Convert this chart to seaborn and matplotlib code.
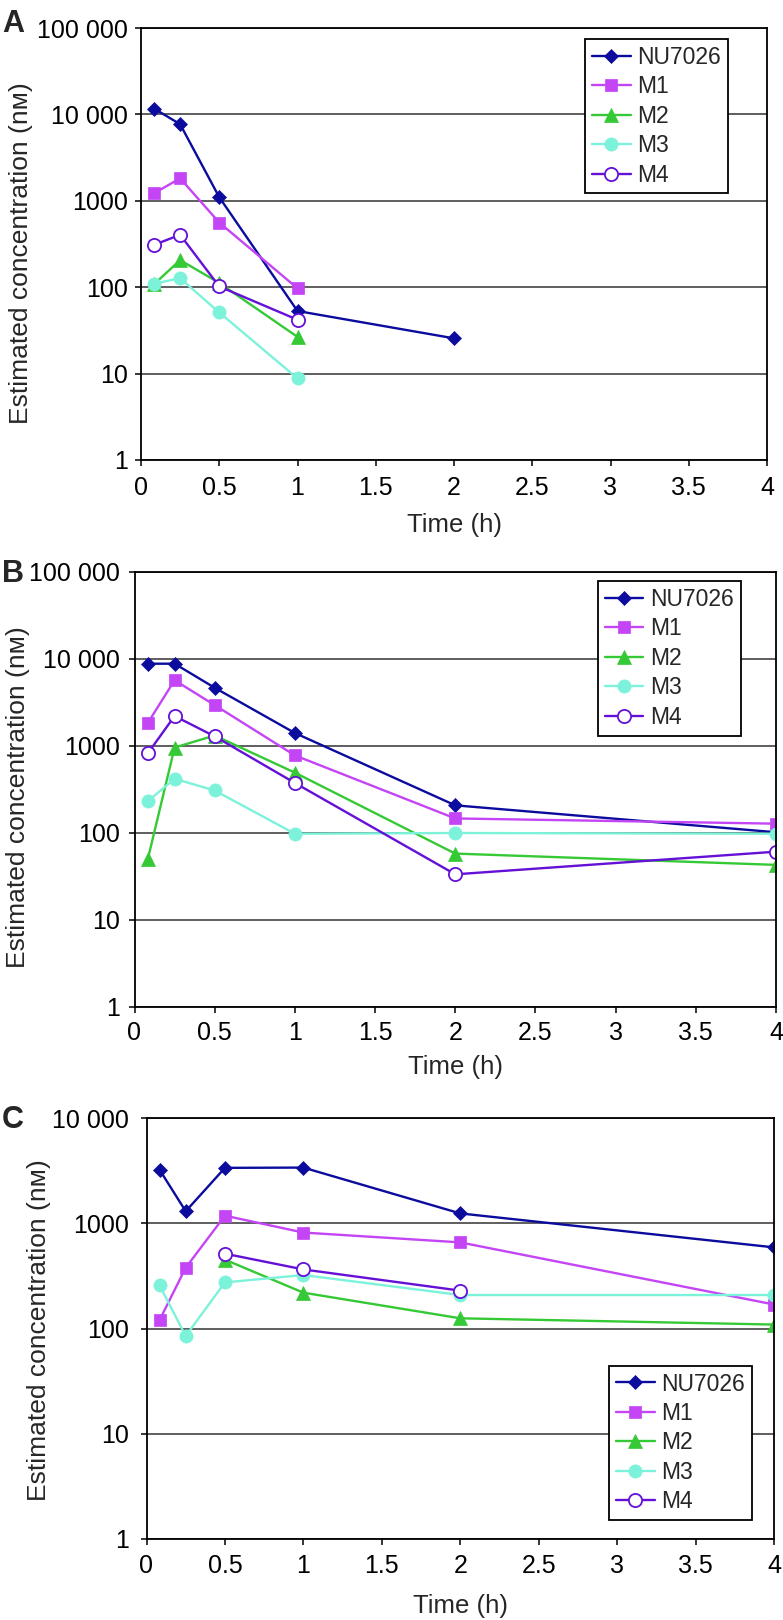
import numpy as np
import pandas as pd
import matplotlib
matplotlib.use("Agg")
import matplotlib.pyplot as plt
from matplotlib.ticker import FixedLocator, FixedFormatter, NullLocator
import seaborn as sns

# ---------------- data ----------------
times = [0.083, 0.25, 0.5, 1, 2, 4]
series = ["NU7026", "M1", "M2", "M3", "M4"]
nan = np.nan

a_nu7026 = [11700, 7700, 1100, 53, 25.6, nan]
a_m1 = [1220, 1820, 560, 97, nan, nan]
a_m2 = [108, 206, 112, 26.6, nan, nan]
a_m3 = [110, 127, 51, 8.8, nan, nan]
a_m4 = [309, 404, 102, 42, nan, nan]

b_nu7026 = [8830, 8830, 4670, 1410, 208, 102]
b_m1 = [1840, 5700, 2950, 780, 147, 128]
b_m2 = [50, 960, 1320, 494, 58, 43]
b_m3 = [232, 420, 308, 98, 100, 98]
b_m4 = [824, 2210, 1290, 376, 33.5, 61]

c_nu7026 = [3230, 1300, 3360, 3380, 1240, 590]
c_m1 = [120, 378, 1180, 816, 658, 169]
c_m2 = [nan, nan, 451, 219, 125, 109]
c_m3 = [257, 85, 274, 322, 208, 208]
c_m4 = [nan, nan, 514, 364, 229, nan]

x_ticks = [0, 0.5, 1, 1.5, 2, 2.5, 3, 3.5, 4]
x_tick_labels = ["0", "0.5", "1", "1.5", "2", "2.5", "3", "3.5", "4"]
y_ticks_ab = [1, 10, 100, 1000, 10000, 100000]
y_labels_ab = ["1", "10", "100", "1000", "10 000", "100 000"]
y_ticks_c = [1, 10, 100, 1000, 10000]
y_labels_c = ["1", "10", "100", "1000", "10 000"]

panel_letters = ["A", "B", "C"]
ylabel_text = "Estimated concentration (n\u1d0d)"
xlabel_text = "Time (h)"

# ---------------- styles ----------------
colors = {"NU7026": "#0b0b9e", "M1": "#c445f5", "M2": "#35c935",
          "M3": "#7df2da", "M4": "#6410d6"}
markers = {"NU7026": "D", "M1": "s", "M2": "^", "M3": "o", "M4": "o"}
msizes = {"NU7026": 7.0, "M1": 9.0, "M2": 9.5, "M3": 9.5, "M4": 9.5}

sns.set_style("ticks")
plt.rcParams["font.family"] = ["Liberation Sans", "DejaVu Sans"]

W, H = 783, 1620
fig = plt.figure(figsize=(W / 100, H / 100), dpi=100)


def frac_rect(left, right, top, bottom):
    return [left / W, 1 - bottom / H, (right - left) / W, (bottom - top) / H]


panels = [
    dict(rect=(141, 767, 28, 460), data=[a_nu7026, a_m1, a_m2, a_m3, a_m4],
         yticks=y_ticks_ab, ylabels=y_labels_ab, ylim=(1, 1e5),
         legend=dict(loc="upper right", bbox_to_anchor=(0.9377, 0.9745)),
         letter_base=32, ylab=(21, 253), xlab_base=532, xpad=7.0, ypad=5.0),
    dict(rect=(134.5, 776, 572, 1007), data=[b_nu7026, b_m1, b_m2, b_m3, b_m4],
         yticks=y_ticks_ab, ylabels=y_labels_ab, ylim=(1, 1e5),
         legend=dict(loc="upper right", bbox_to_anchor=(0.9454, 0.979)),
         letter_base=582, ylab=(18, 797), xlab_base=1074, xpad=6.0, ypad=6.5),
    dict(rect=(146.5, 774, 1118, 1539), data=[c_nu7026, c_m1, c_m2, c_m3, c_m4],
         yticks=y_ticks_c, ylabels=y_labels_c, ylim=(1, 1e4),
         legend=dict(loc="lower right", bbox_to_anchor=(0.965, 0.045)),
         letter_base=1128, ylab=(39, 1330), xlab_base=1613, xpad=6.5, ypad=8.4),
]

for letter, p in zip(panel_letters, panels):
    l, r, t, b = p["rect"]
    ax = fig.add_axes(frac_rect(l, r, t, b))
    for name, vals in zip(series, p["data"]):
        df = pd.DataFrame({"time": times, "conc": vals}).dropna()
        face = "white" if name == "M4" else colors[name]
        sns.lineplot(data=df, x="time", y="conc", ax=ax, color=colors[name],
                     marker=markers[name], markersize=msizes[name],
                     markerfacecolor=face, markeredgecolor=colors[name],
                     markeredgewidth=1.3 if name == "M4" else 0.5,
                     linewidth=1.7, label=name, errorbar=None, sort=False)
    ax.set_yscale("log")
    ax.set_ylim(*p["ylim"])
    ax.set_xlim(0, 4)
    ax.yaxis.set_major_locator(FixedLocator(p["yticks"]))
    ax.yaxis.set_major_formatter(FixedFormatter(p["ylabels"]))
    ax.yaxis.set_minor_locator(NullLocator())
    ax.set_xticks(x_ticks)
    ax.set_xticklabels(x_tick_labels)
    ax.set_xlabel("")
    ax.set_ylabel("")
    ax.yaxis.grid(True, color="#333333", linewidth=1.1)
    ax.xaxis.grid(False)
    ax.set_axisbelow(True)
    for s in ax.spines.values():
        s.set_visible(True)
        s.set_color("black")
        s.set_linewidth(1.3)
    ax.tick_params(axis="x", direction="out", length=4.3, width=1.1,
                   labelsize=18, pad=p["xpad"], colors="black")
    ax.tick_params(axis="y", direction="out", length=4.3, width=1.1,
                   labelsize=18, pad=p["ypad"], colors="black")

    leg = ax.legend(frameon=True, fancybox=False, edgecolor="black",
                    framealpha=1, fontsize=16.5, handlelength=1.7,
                    handletextpad=0.3, labelspacing=0.28, borderpad=0.3,
                    borderaxespad=0, **p["legend"])
    leg.get_frame().set_linewidth(1.3)

    fig.text(2 / W, 1 - p["letter_base"] / H, letter, fontsize=22,
             fontweight="bold", ha="left", va="baseline")
    fig.text(p["ylab"][0] / W, 1 - p["ylab"][1] / H, ylabel_text, fontsize=19,
             rotation=90, ha="center", va="center")
    fig.text(((l + r) / 2) / W, 1 - p["xlab_base"] / H, xlabel_text,
             fontsize=18.5, ha="center", va="baseline")

fig.savefig("out.png", dpi=100)
